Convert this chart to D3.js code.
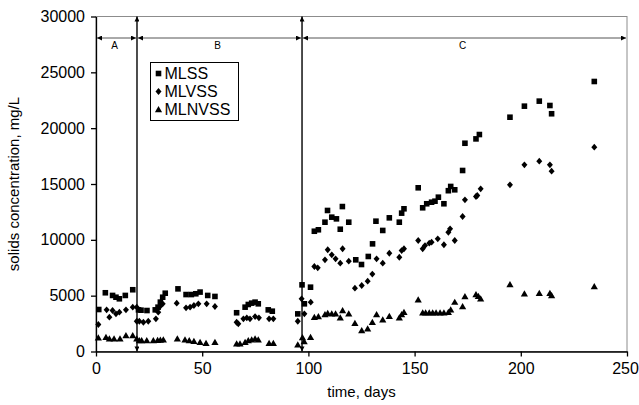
<!DOCTYPE html>
<html>
<head>
<meta charset="utf-8">
<script src="https://cdn.jsdelivr.net/npm/d3@7"></script>
<style>
  body { margin: 0; background: #fff; }
  svg { display: block; font-family: "Liberation Sans", Arial, sans-serif; }
</style>
</head>
<body>
<script>
// Data: [day, mg/L]
const mlss = [
  [1.3, 3760], [4.4, 5260], [7.8, 5020], [9.4, 4860], [11, 4720], [13.8, 5020], [17.3, 5530],
  [20, 3730], [21.2, 3700], [24, 3670], [27.9, 3730], [29.2, 3970], [30.3, 4420], [31.4, 4860], [32.6, 5220],
  [38.6, 5610], [42.4, 5100], [44.9, 5100], [47, 5170], [49, 5320], [52.6, 5020], [56, 4930],
  [66.2, 3470], [70.2, 3970], [71.7, 4210], [73.3, 4330], [74.9, 4420], [76.4, 4270], [81.1, 3730], [83, 3610],
  [95, 3370], [97, 5970], [98.1, 4270], [101, 5760], [102.8, 10770], [104.7, 10900], [107.8, 11580],
  [109, 12630], [111, 12030], [113.2, 11880], [115, 10950], [116, 12980], [119, 11580], [122.3, 8210],
  [125, 7790], [128.2, 8510], [130.2, 9640], [131.8, 11670], [135, 10840], [138.1, 11970], [142.8, 11580],
  [143.9, 12390], [145, 12780], [151.7, 14660], [153.8, 12870], [155.7, 13230], [158, 13370], [159.6, 13460],
  [161.2, 13820], [163.8, 13230], [165.9, 14400], [167, 14780], [168.9, 14480], [172.6, 16210], [173.7, 18650],
  [178.9, 19040], [180.5, 19430], [194.9, 20980], [201.7, 21970], [208.7, 22420], [213.7, 22030],
  [214.5, 21290], [234.6, 24180]
];
const mlvss = [
  [1.1, 2420], [5, 3730], [6.3, 3070], [7.8, 3670], [9.4, 3370], [11, 3520], [14.1, 3730], [17.3, 3970],
  [19.2, 3970], [19.2, 2710], [20.4, 2710], [22.3, 2620], [24.6, 2710], [28.2, 2930], [29.3, 3520],
  [30.1, 4030], [31.4, 4270], [38, 4330], [42.4, 3910], [44.3, 3970], [46.1, 4120], [48.2, 4270],
  [52.1, 4270], [56, 4030], [66.2, 2620], [67, 2480], [69.4, 2930], [71, 3020], [72.5, 2930], [74.9, 3130],
  [76.7, 3020], [81.5, 2930], [83.5, 2930], [95, 2710], [96.8, 4720], [98.1, 3370], [101.1, 4420],
  [102.8, 7610], [104.4, 7490], [107.8, 8210], [109.1, 9110], [111, 8660], [112.8, 8300], [115, 7910],
  [116.1, 9200], [119, 8090], [121.9, 5670], [125.1, 5910], [127.9, 6300], [130.1, 6930], [132.1, 8300],
  [135, 7910], [138.1, 8800], [142.8, 8440], [143.9, 9040], [145, 9200], [151.7, 9940], [153.8, 9200],
  [154.9, 9490], [156.9, 9700], [158, 9790], [160.9, 10090], [163.8, 9560], [165.9, 10680], [166.7, 10990],
  [168.9, 9940], [172.6, 12090], [173.7, 13580], [178.9, 13880], [179.5, 13970], [181.1, 14570],
  [194.9, 14930], [201.7, 16720], [208.7, 17040], [213.7, 16720], [214.5, 16150], [234.6, 18300]
];
const mlnvss = [
  [1.1, 1230], [4.7, 1280], [6.3, 1140], [8.5, 1140], [11.3, 1140], [14.1, 1430], [17.3, 1430], [19.2, 1140],
  [20.4, 985], [21.5, 985], [23.9, 985], [27, 985], [29, 1000], [30.3, 1020], [31.7, 1050], [38.3, 1140],
  [41.9, 1050], [43.9, 985], [46.1, 920], [49, 830], [51.8, 740], [56, 830], [66.2, 690], [67.8, 690],
  [70.2, 830], [71.7, 985], [73.3, 1050], [74.9, 1140], [76.4, 1050], [81.5, 740], [83.5, 740],
  [95, 600], [97.2, 1250], [98, 900], [101, 1280], [102.8, 3070], [104.7, 3130], [107.8, 3310],
  [109.1, 3430], [111, 3370], [112.8, 3370], [115, 3020], [116.1, 3670], [119, 3370], [121.9, 2530],
  [125.1, 1880], [127.9, 2030], [130.1, 2620], [132.1, 3310], [135, 2840], [138.1, 3160], [142.8, 3020],
  [143.9, 3310], [145, 3520], [151.7, 4630], [153.8, 3460], [155.2, 3460], [156.9, 3460], [158.5, 3460],
  [160.1, 3460], [162, 3460], [163.8, 3460], [165.9, 3520], [167, 3730], [168.9, 4420], [172.6, 4030],
  [173.7, 4930], [178.9, 5100], [180, 4950], [181.1, 4720], [194.9, 6000], [201.7, 5170], [208.7, 5220],
  [213.7, 5220], [214.5, 5010], [234.6, 5820]
];
const seriesNames = ["MLSS", "MLVSS", "MLNVSS"];
const xTicks = [0, 50, 100, 150, 200, 250];
const yTicks = [0, 5000, 10000, 15000, 20000, 25000, 30000];
const phaseBounds = [0, 19.3, 97, 250];
const phaseLabels = ["A", "B", "C"];

const width = 639, height = 405;
const plotLeft = 96, plotRight = 627, plotTop = 16.5, plotBottom = 351.5;

const svg = d3.select("body").append("svg")
  .attr("width", width).attr("height", height);

const x = d3.scaleLinear().domain([0, 250]).range([plotLeft, plotRight]);
const y = d3.scaleLinear().domain([0, 30000]).range([plotBottom, plotTop]);

// plot area border (grey)
svg.append("rect")
  .attr("x", x(0)).attr("y", y(30000))
  .attr("width", x(250) - x(0)).attr("height", y(0) - y(30000))
  .attr("fill", "none").attr("stroke", "#8c8c8c").attr("stroke-width", 1);

// arrow markers
const defs = svg.append("defs");
defs.append("marker")
  .attr("id", "arr").attr("viewBox", "0 0 10 10")
  .attr("refX", 10).attr("refY", 5)
  .attr("markerWidth", 6).attr("markerHeight", 5)
  .attr("markerUnits", "userSpaceOnUse")
  .attr("orient", "auto-start-reverse")
  .append("path").attr("d", "M0,0L10,5L0,10Z").attr("fill", "#000");

// symbol types
const squareSym = { draw(c) { c.rect(-2.8, -2.8, 5.6, 5.6); } };
const diamondSym = { draw(c) { c.moveTo(0, -3.4); c.lineTo(3, 0); c.lineTo(0, 3.4); c.lineTo(-3, 0); c.closePath(); } };
const triSym = { draw(c) { c.moveTo(0, -3.5); c.lineTo(3.6, 2.7); c.lineTo(-3.6, 2.7); c.closePath(); } };
const symbols = [squareSym, diamondSym, triSym];
const allSeries = [mlss, mlvss, mlnvss];

// axes
const yAxis = d3.axisLeft(y).tickValues(yTicks).tickFormat(d3.format("d"))
  .tickSize(5).tickSizeOuter(0).tickPadding(6);
const xAxis = d3.axisBottom(x).tickValues(xTicks).tickFormat(d3.format("d"))
  .tickSize(5).tickSizeOuter(0).tickPadding(6);

const gy = svg.append("g").attr("transform", `translate(${x(0)},0)`).call(yAxis);
const gx = svg.append("g").attr("transform", `translate(0,${y(0)})`).call(xAxis);
[gx, gy].forEach(g => {
  g.select(".domain").attr("stroke", "#000").attr("stroke-width", 1.3);
  g.selectAll(".tick line").attr("stroke", "#000").attr("stroke-width", 1.3);
  g.selectAll(".tick text").attr("font-size", 16).attr("fill", "#000")
    .attr("font-family", "'Liberation Sans', Arial, sans-serif");
});
// last x label sits at the page edge
gx.selectAll(".tick text").filter(d => d === 250).attr("dx", "-2");

// phase boundaries (vertical arrows)
svg.selectAll(".phase-line")
  .data(phaseBounds.slice(1, -1))
  .enter().append("line")
  .attr("class", "phase-line")
  .attr("x1", d => x(d)).attr("x2", d => x(d))
  .attr("y1", y(0)).attr("y2", y(30000))
  .attr("stroke", "#000").attr("stroke-width", 1.4)
  .attr("marker-start", "url(#arr)").attr("marker-end", "url(#arr)");

// phase spans (horizontal arrows)
const arrowY = 38;
const spans = phaseLabels.map((lab, i) => ({ lab, a: phaseBounds[i], b: phaseBounds[i + 1] }));
svg.selectAll(".span-line")
  .data(spans)
  .enter().append("line")
  .attr("class", "span-line")
  .attr("x1", d => x(d.a) + 1).attr("x2", d => x(d.b) - 1)
  .attr("y1", arrowY).attr("y2", arrowY)
  .attr("stroke", "#555").attr("stroke-width", 1)
  .attr("marker-start", "url(#arr)").attr("marker-end", "url(#arr)");
svg.selectAll(".span-label")
  .data(spans)
  .enter().append("text")
  .attr("x", d => (x(d.a) + x(d.b)) / 2 - 2)
  .attr("y", arrowY + 11)
  .attr("text-anchor", "middle")
  .attr("font-size", 10)
  .text(d => d.lab);

// points
allSeries.forEach((data, i) => {
  svg.append("g").selectAll("path")
    .data(data)
    .enter().append("path")
    .attr("d", d3.symbol().type(symbols[i]))
    .attr("transform", d => `translate(${x(d[0])},${y(d[1])})`)
    .attr("fill", "#000");
});

// legend
const lg = svg.append("g").attr("transform", "translate(150.5,62.5)");
lg.append("rect").attr("width", 88).attr("height", 58)
  .attr("fill", "#fff").attr("stroke", "#000").attr("stroke-width", 1);
seriesNames.forEach((name, i) => {
  const row = lg.append("g").attr("transform", `translate(0,${11 + i * 18})`);
  row.append("path").attr("d", d3.symbol().type(symbols[i])())
    .attr("transform", "translate(8,0)").attr("fill", "#000");
  row.append("text").attr("x", 14).attr("y", 0).attr("dy", "0.35em")
    .attr("font-size", 16).text(name);
});

// axis titles
svg.append("text")
  .attr("x", (x(0) + x(250)) / 2).attr("y", 397)
  .attr("text-anchor", "middle").attr("font-size", 15)
  .text("time, days");
svg.append("text")
  .attr("transform", `translate(19,${(y(0) + y(30000)) / 2}) rotate(-90)`)
  .attr("text-anchor", "middle").attr("font-size", 15)
  .text("solids concentration, mg/L");
</script>
</body>
</html>
